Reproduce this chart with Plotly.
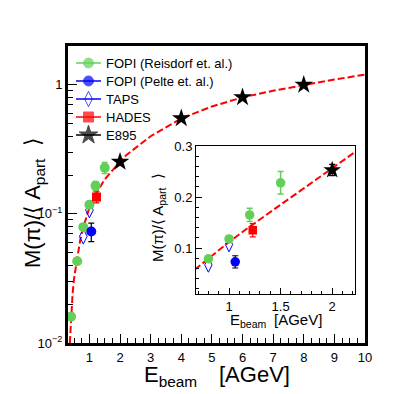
import plotly.graph_objects as go

# ---------------- data ----------------
reisdorf_E = [0.4, 0.6, 0.8, 1.0, 1.2, 1.5]
reisdorf_M = [0.016, 0.043, 0.079, 0.118, 0.165, 0.228]
reisdorf_err = [0.001, 0.002, 0.004, 0.006, 0.013, 0.022]

pelte_E = [1.06]
pelte_M = [0.073]
pelte_err = [0.012]

taps_E = [0.8, 1.0]
taps_M = [0.067, 0.107]

hades_E = [1.23]
hades_M = [0.135]
hades_err = [0.013]

e895_E = [2.0, 4.0, 6.0, 8.0]
e895_M = [0.253, 0.55, 0.80, 1.0]
e895_err = [0.011, 0.02, 0.03, 0.04]

curve_E = [0.36, 0.38, 0.40, 0.45, 0.50, 0.60, 0.70, 0.80, 0.90, 1.00, 1.20, 1.50,
           2.00, 2.20, 3.00, 4.00, 5.00, 6.00, 7.00, 8.00, 9.00, 10.0]
curve_M = [0.010, 0.013, 0.016, 0.024, 0.032, 0.047, 0.063, 0.079, 0.096, 0.112, 0.142, 0.185,
           0.255, 0.285, 0.40, 0.55, 0.68, 0.80, 0.90, 1.00, 1.10, 1.20]

main_xticks = [1, 2, 3, 4, 5, 6, 7, 8, 9, 10]
main_yticks = [0.01, 0.1, 1]
main_yticktext = ["10<sup>\u22122</sup>", "10<sup>\u22121</sup>", "1"]
inset_xticks = [1, 1.5, 2]
inset_yticks = [0.1, 0.2, 0.3]

legend_names = ["FOPI (Reisdorf et. al.)", "FOPI (Pelte et. al.)", "TAPS", "HADES", "E895"]

# ---------------- styles ----------------
GREEN = "#62d058"
BLUE = "#0000ff"
RED = "#ff0000"
FONT = "Liberation Sans, Arial, Helvetica, sans-serif"

# plot-area geometry in pixels
L, R, T, B = 60, 357, 38, 335
W, H = R - L, B - T

fig = go.Figure()


def add_sets(xa, ya, s):
    fig.add_trace(go.Scatter(x=curve_E, y=curve_M, mode="lines", xaxis=xa, yaxis=ya,
                             line=dict(color=RED, width=2, dash="7px,3px"),
                             showlegend=False, hoverinfo="skip"))
    fig.add_trace(go.Scatter(x=taps_E, y=taps_M, mode="markers", xaxis=xa, yaxis=ya,
                             marker=dict(symbol="diamond-tall-open", size=11 * s, color=BLUE,
                                         line=dict(width=1, color=BLUE)),
                             showlegend=False))
    fig.add_trace(go.Scatter(x=reisdorf_E, y=reisdorf_M, mode="markers", xaxis=xa, yaxis=ya,
                             marker=dict(symbol="circle", size=10 * s, color=GREEN),
                             error_y=dict(type="data", array=reisdorf_err, color=GREEN,
                                          thickness=1.5, width=3),
                             showlegend=False))
    fig.add_trace(go.Scatter(x=pelte_E, y=pelte_M, mode="markers", xaxis=xa, yaxis=ya,
                             marker=dict(symbol="circle", size=10 * s, color=BLUE),
                             error_y=dict(type="data", array=pelte_err, color="black",
                                          thickness=1.2, width=3),
                             showlegend=False))
    fig.add_trace(go.Scatter(x=hades_E, y=hades_M, mode="markers", xaxis=xa, yaxis=ya,
                             marker=dict(symbol="square", size=9 * s, color=RED),
                             error_y=dict(type="data", array=hades_err, color=RED,
                                          thickness=1.2, width=3),
                             showlegend=False))
    fig.add_trace(go.Scatter(x=e895_E, y=e895_M, mode="markers", xaxis=xa, yaxis=ya,
                             marker=dict(symbol="star", size=14 * s, color="black"),
                             error_y=dict(type="data", array=e895_err, color="black",
                                          thickness=1.2, width=3),
                             showlegend=False))


add_sets("x", "y", 1.0)
add_sets("x2", "y2", 0.95)

# ---------------- manual ROOT-style legend (pixel overlay axis) ----------------
leg_rows = [55, 73, 91, 109, 127]
leg_symbols = ["circle", "circle", "diamond-tall-open", "square", "star"]
leg_colors = [GREEN, BLUE, BLUE, RED, "black"]
leg_sizes = [10, 10, 11, 10, 14]
for yrow, col in zip(leg_rows, leg_colors):
    fig.add_shape(type="line", xref="x3", yref="y3", x0=68, x1=93, y0=yrow, y1=yrow,
                  line=dict(color=col, width=1.5))
fig.add_trace(go.Scatter(x=[80.5] * len(leg_rows), y=leg_rows, mode="markers",
                         xaxis="x3", yaxis="y3", showlegend=False, hoverinfo="skip",
                         marker=dict(symbol=leg_symbols, size=leg_sizes, color=leg_colors,
                                     line=dict(width=1, color=leg_colors))))
for yrow, name in zip(leg_rows, legend_names):
    fig.add_annotation(xref="x3", yref="y3", x=96, y=yrow, text=name, showarrow=False,
                       xanchor="left", yanchor="middle",
                       font=dict(family=FONT, size=13, color="black"))

axis_common = dict(showgrid=False, zeroline=False, showline=True, linecolor="black",
                   mirror=True, ticks="inside", tickcolor="black",
                   tickfont=dict(family=FONT, size=13, color="black"))

fig.update_layout(
    width=398, height=394,
    margin=dict(l=L, r=398 - R, t=T, b=394 - B),
    paper_bgcolor="white", plot_bgcolor="white",
    font=dict(family=FONT, size=13, color="black"),
    showlegend=False,
    xaxis=dict(domain=[0, 1], range=[0.3, 10], tickvals=main_xticks, ticklen=9,
               linewidth=3, ticklabelstandoff=0,
               minor=dict(ticks="inside", dtick=0.25, tick0=0, ticklen=5, tickcolor="black"),
               **axis_common),
    yaxis=dict(domain=[0, 1], type="log", range=[-2, 0.30103], tickvals=main_yticks,
               ticktext=main_yticktext, ticklen=9, linewidth=3,
               minor=dict(ticks="inside", ticklen=5, tickcolor="black",
                          tickvals=[k * 10 ** n for n in (-2, -1, 0) for k in range(2, 10)
                                    if k * 10 ** n <= 2]),
               **axis_common),
    xaxis2=dict(domain=[0.431, 0.966], anchor="y2", range=[0.68, 2.22], tickvals=inset_xticks,
                ticklen=6, linewidth=1, ticklabelstandoff=0,
                minor=dict(ticks="inside", dtick=0.1, tick0=0, ticklen=3, tickcolor="black"),
                **axis_common),
    yaxis2=dict(domain=[0.165, 0.663], anchor="x2", range=[0.01, 0.3], tickvals=inset_yticks,
                ticklen=6, linewidth=1,
                minor=dict(ticks="inside", dtick=0.02, tick0=0, ticklen=3, tickcolor="black"),
                **axis_common),
    xaxis3=dict(domain=[0, 1], anchor="y3", overlaying="x", range=[L, R], visible=False,
                fixedrange=True),
    yaxis3=dict(domain=[0, 1], anchor="x3", overlaying="y", range=[B, T], visible=False,
                fixedrange=True),
)


def px(xp):
    return (xp - L) / W


def py(yp):
    return (B - yp) / H


# main axis titles
fig.add_annotation(xref="paper", yref="paper", x=px(162), y=py(352),
                   text="E<sub>beam</sub>", showarrow=False, xanchor="center", yanchor="top",
                   font=dict(family=FONT, size=22, color="black"))
fig.add_annotation(xref="paper", yref="paper", x=px(246), y=py(352),
                   text="[AGeV]", showarrow=False, xanchor="center", yanchor="top",
                   font=dict(family=FONT, size=22, color="black"))
fig.add_annotation(xref="paper", yref="paper", x=px(26), y=py(195),
                   text="M(\u03c0)/\u27e8 A<sub>part</sub>  \u27e9", textangle=-90, showarrow=False,
                   xanchor="center", yanchor="middle",
                   font=dict(family=FONT, size=22, color="black"))
# inset axis titles
fig.add_annotation(xref="paper", yref="paper", x=px(240), y=py(301),
                   text="E<sub>beam</sub>", showarrow=False, xanchor="center", yanchor="top",
                   font=dict(family=FONT, size=15, color="black"))
fig.add_annotation(xref="paper", yref="paper", x=px(290), y=py(301),
                   text="[AGeV]", showarrow=False, xanchor="center", yanchor="top",
                   font=dict(family=FONT, size=15, color="black"))
fig.add_annotation(xref="paper", yref="paper", x=px(150), y=py(210),
                   text="M(\u03c0)/\u27e8 A<sub>part</sub>  \u27e9", textangle=-90, showarrow=False,
                   xanchor="center", yanchor="middle",
                   font=dict(family=FONT, size=15, color="black"))

fig.write_html("out.html")
